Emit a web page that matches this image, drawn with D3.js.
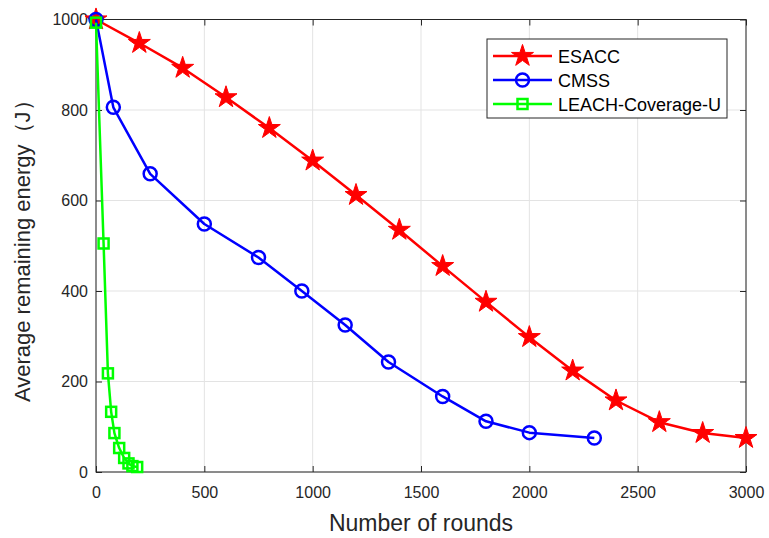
<!DOCTYPE html>
<html>
<head>
<meta charset="utf-8">
<script src="https://cdn.jsdelivr.net/npm/d3@7"></script>
<style>
  body { margin: 0; background: #fff; }
  svg { display: block; font-family: "Liberation Sans", Arial, sans-serif; }
</style>
</head>
<body>
<svg id="chart" width="769" height="538"></svg>
<script>
// 数据
const esaccRounds = [0, 200, 400, 600, 800, 1000, 1200, 1400, 1600, 1800, 2000, 2200, 2400, 2600, 2800, 3000];
const esaccEnergy = [1000, 948, 893, 828, 760, 688, 612, 535, 455, 376, 298, 224, 158, 110, 86, 75];

const cmssRounds = [0, 80, 250, 500, 750, 950, 1150, 1350, 1600, 1800, 2000, 2300];
const cmssEnergy = [1000, 806, 659, 548, 474, 400, 325, 243, 167, 112, 87, 75];

const leachRounds = [0, 35, 55, 70, 85, 107, 130, 150, 168, 190];
const leachEnergy = [993, 505, 218, 133, 86, 53, 31, 19, 13, 11];

const xTicks = [0, 500, 1000, 1500, 2000, 2500, 3000];
const yTicks = [0, 200, 400, 600, 800, 1000];

const series = [
  { name: "ESACC", color: "#ff0000", marker: "star", xs: esaccRounds, ys: esaccEnergy },
  { name: "CMSS", color: "#0000ff", marker: "circle", xs: cmssRounds, ys: cmssEnergy },
  { name: "LEACH-Coverage-U", color: "#00ff00", marker: "square", xs: leachRounds, ys: leachEnergy },
];

// 布局
const margin = { left: 96, right: 23, top: 19.5, bottom: 66 };
const width = 769, height = 538;
const svg = d3.select("#chart");

const x = d3.scaleLinear().domain([0, 3000]).range([margin.left, width - margin.right]);
const y = d3.scaleLinear().domain([0, 1000]).range([height - margin.bottom, margin.top]);

const axisColor = "#262626";

// 网格
const grid = svg.append("g");
grid.selectAll("line.vx").data(xTicks).join("line")
  .attr("x1", (d) => x(d)).attr("x2", (d) => x(d))
  .attr("y1", y(0)).attr("y2", y(1000))
  .attr("stroke", "#e3e3e3").attr("stroke-width", 1);
grid.selectAll("line.hy").data(yTicks).join("line")
  .attr("x1", x(0)).attr("x2", x(3000))
  .attr("y1", (d) => y(d)).attr("y2", (d) => y(d))
  .attr("stroke", "#e3e3e3").attr("stroke-width", 1);

// 坐标轴
function styleAxis(g) {
  g.select(".domain").remove();
  g.selectAll(".tick line").attr("stroke", axisColor);
  g.selectAll(".tick text").attr("fill", axisColor).style("font-size", "16px");
}

svg.append("g")
  .attr("transform", `translate(0,${y(0)})`)
  .call(d3.axisBottom(x).tickValues(xTicks).tickSize(-6).tickPadding(15).tickFormat(d3.format("d")))
  .call(styleAxis);
svg.append("g")
  .attr("transform", `translate(0,${y(1000)})`)
  .call(d3.axisTop(x).tickValues(xTicks).tickSize(-6).tickFormat(""))
  .call(styleAxis);
svg.append("g")
  .attr("transform", `translate(${x(0)},0)`)
  .call(d3.axisLeft(y).tickValues(yTicks).tickSize(-6).tickPadding(8).tickFormat(d3.format("d")))
  .call(styleAxis);
svg.append("g")
  .attr("transform", `translate(${x(3000)},0)`)
  .call(d3.axisRight(y).tickValues(yTicks).tickSize(-6).tickFormat(""))
  .call(styleAxis);

svg.append("rect")
  .attr("x", x(0)).attr("y", y(1000))
  .attr("width", x(3000) - x(0)).attr("height", y(0) - y(1000))
  .attr("fill", "none").attr("stroke", axisColor).attr("stroke-width", 1);

// 标记
const starPath = d3.symbol().type(d3.symbolStar).size(150)();
function drawMarker(g, type, color) {
  if (type === "star") {
    g.append("path").attr("d", starPath).attr("fill", color).attr("stroke", color).attr("stroke-width", 1);
  } else if (type === "circle") {
    g.append("circle").attr("r", 6.5).attr("fill", "none").attr("stroke", color).attr("stroke-width", 2.5);
  } else {
    g.append("rect").attr("x", -5).attr("y", -5).attr("width", 10).attr("height", 10)
      .attr("fill", "none").attr("stroke", color).attr("stroke-width", 2.5);
  }
}

const line = d3.line().x((d) => x(d[0])).y((d) => y(d[1]));

series.forEach((s) => {
  const pts = s.xs.map((v, i) => [v, s.ys[i]]);
  svg.append("path")
    .datum(pts)
    .attr("d", line)
    .attr("fill", "none")
    .attr("stroke", s.color)
    .attr("stroke-width", 2.5)
    .attr("stroke-linejoin", "round");
  pts.forEach((p) => {
    const g = svg.append("g").attr("transform", `translate(${x(p[0])},${y(p[1])})`);
    drawMarker(g, s.marker, s.color);
  });
});

// 轴标题
svg.append("text")
  .attr("x", (x(0) + x(3000)) / 2).attr("y", 531)
  .attr("text-anchor", "middle")
  .attr("fill", axisColor)
  .style("font-size", "23px")
  .text("Number of rounds");

svg.append("text")
  .attr("transform", `translate(30,${(y(0) + y(1000)) / 2}) rotate(-90)`)
  .attr("text-anchor", "middle")
  .attr("fill", axisColor)
  .style("font-size", "22px")
  .text("Average remaining energy（J）");

// 图例
const legend = svg.append("g").attr("transform", "translate(487,39)");
legend.append("rect")
  .attr("width", 240).attr("height", 79)
  .attr("fill", "#fff").attr("stroke", axisColor).attr("stroke-width", 1);
series.forEach((s, i) => {
  const row = legend.append("g").attr("transform", `translate(0,${17 + i * 24})`);
  row.append("line").attr("x1", 6).attr("x2", 65).attr("y1", 0).attr("y2", 0)
    .attr("stroke", s.color).attr("stroke-width", 2.5);
  drawMarker(row.append("g").attr("transform", "translate(35.5,0)"), s.marker, s.color);
  row.append("text").attr("x", 71).attr("y", 6.5)
    .attr("fill", "#000").style("font-size", "18px").text(s.name);
});
</script>
</body>
</html>
